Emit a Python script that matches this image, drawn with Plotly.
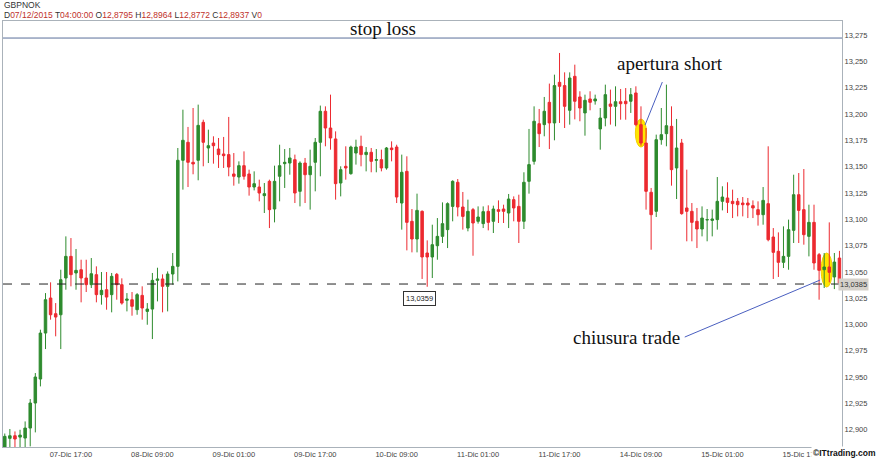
import plotly.graph_objects as go

# ---------------- data (GBPNOK, hourly candles from 07/12/2015 04:00) ----------------
open_ = [12.8795, 12.8918, 12.8943, 12.8930, 12.8921, 12.9016, 12.9254, 12.9482, 12.9919, 13.0252,
         13.0103, 13.0093, 13.0442, 13.0648, 13.0490, 13.0521, 13.0442, 13.0379, 13.0474, 13.0284,
         13.0331, 13.0284, 13.0477, 13.0379, 13.0230, 13.0236, 13.0141, 13.0277, 13.0125, 13.0147,
         13.0420, 13.0433, 13.0363, 13.0480, 13.0553, 13.1561, 13.1732, 13.1542, 13.1561, 13.1922,
         13.1678, 13.1725, 13.1668, 13.1621, 13.1615, 13.1431, 13.1402, 13.1510, 13.1431, 13.1307,
         13.1307, 13.1225, 13.1361, 13.1098, 13.1409, 13.1529, 13.1535, 13.1567, 13.1266, 13.1535,
         13.1424, 13.1542, 13.1732, 13.2027, 13.1868, 13.1764, 13.1345, 13.1504, 13.1434, 13.1630,
         13.1694, 13.1615, 13.1637, 13.1561, 13.1567, 13.1488, 13.1678, 13.1687, 13.1155, 13.1456,
         13.0981, 13.0813, 13.1076, 13.0680, 13.0642, 13.0749, 13.0838, 13.0902, 13.1123, 13.1352,
         13.1117, 13.0917, 13.1092, 13.0981, 13.0959, 13.1076, 13.0981, 13.1092, 13.1098, 13.1060,
         13.1187, 13.1123, 13.0981, 13.1361, 13.1551, 13.1909, 13.1900, 13.2112, 13.1916, 13.2302,
         13.2271, 13.2036, 13.2359, 13.2163, 13.2011, 13.2144, 13.2125, 13.1859, 13.1963, 13.2096,
         13.2074, 13.2118, 13.2122, 13.2122, 13.2201, 13.1900, 13.1725, 13.1257, 13.1076, 13.1757,
         13.1814, 13.1884, 13.1488, 13.1725, 13.1108, 13.1076, 13.0981, 13.0908, 13.0994, 13.0990,
         13.0997, 13.1171, 13.1203, 13.1171, 13.1171, 13.1155, 13.1155, 13.1130, 13.1092, 13.1044,
         13.1149, 13.0832, 13.0696, 13.0591, 13.0648, 13.0895, 13.1234, 13.1092, 13.0838, 13.0971,
         13.0664, 13.0521, 13.0547, 13.0452, 13.0632]
high = [12.8964, 12.9007, 12.8984, 12.9000, 12.9079, 12.9292, 12.9539, 12.9951, 13.0299, 13.0401,
        13.0204, 13.0521, 13.0838, 13.0822, 13.0718, 13.0616, 13.0616, 13.0632, 13.0553, 13.0499,
        13.0499, 13.0490, 13.0490, 13.0439, 13.0299, 13.0309, 13.0299, 13.0363, 13.0204, 13.0490,
        13.0540, 13.0477, 13.0505, 13.0680, 13.1678, 13.2042, 13.1878, 13.2058, 13.2090, 13.1947,
        13.1852, 13.1789, 13.1773, 13.1783, 13.1973, 13.1630, 13.1551, 13.1646, 13.1472, 13.1456,
        13.1377, 13.1345, 13.1377, 13.1510, 13.1709, 13.1668, 13.1678, 13.1615, 13.1551, 13.1583,
        13.1662, 13.1773, 13.2081, 13.2074, 13.2185, 13.1836, 13.1504, 13.1694, 13.1700, 13.1757,
        13.1795, 13.1687, 13.1678, 13.1668, 13.1662, 13.1687, 13.1741, 13.1709, 13.1615, 13.1599,
        13.1098, 13.1244, 13.1085, 13.0800, 13.0949, 13.1012, 13.1161, 13.1161, 13.1371, 13.1383,
        13.1260, 13.1187, 13.1108, 13.1123, 13.1123, 13.1133, 13.1130, 13.1180, 13.1139, 13.1241,
        13.1218, 13.1234, 13.1447, 13.1859, 13.2074, 13.2049, 13.2163, 13.2290, 13.2375, 13.2581,
        13.2397, 13.2397, 13.2470, 13.2217, 13.2185, 13.2217, 13.2185, 13.2058, 13.2280, 13.2233,
        13.2264, 13.2239, 13.2248, 13.2248, 13.2264, 13.2074, 13.1868, 13.1298, 13.1805, 13.2058,
        13.2280, 13.2074, 13.1954, 13.1764, 13.1472, 13.1155, 13.1108, 13.1123, 13.1098, 13.1092,
        13.1402, 13.1314, 13.1352, 13.1282, 13.1203, 13.1212, 13.1203, 13.1180, 13.1171, 13.1307,
        13.1694, 13.0917, 13.0876, 13.0933, 13.0997, 13.1424, 13.1440, 13.1478, 13.1139, 13.1139,
        13.0680, 13.0680, 13.0971, 13.0680, 13.0700]
low = [12.8772, 12.8817, 12.8817, 12.8826, 12.8826, 12.8842, 12.8975, 12.9412, 12.9767, 13.0046,
       12.9888, 12.9767, 13.0331, 13.0363, 13.0331, 13.0211, 13.0309, 13.0347, 13.0211, 13.0189,
       13.0141, 13.0116, 13.0236, 13.0189, 13.0125, 13.0084, 13.0093, 13.0046, 12.9998, 12.9862,
       13.0220, 13.0116, 13.0125, 13.0379, 13.0410, 13.1282, 13.1307, 13.1428, 13.1371, 13.1504,
       13.1535, 13.1529, 13.1488, 13.1488, 13.1409, 13.1320, 13.1339, 13.1377, 13.1225, 13.1275,
       13.1171, 13.1060, 13.0917, 13.0971, 13.1171, 13.1298, 13.1424, 13.1155, 13.1123, 13.1155,
       13.1092, 13.1266, 13.1409, 13.1694, 13.1662, 13.1187, 13.1218, 13.1377, 13.1424, 13.1520,
       13.1504, 13.1456, 13.1447, 13.1447, 13.1456, 13.1472, 13.1551, 13.1155, 13.0902, 13.0705,
       13.0686, 13.0686, 13.0433, 13.0359, 13.0442, 13.0616, 13.0775, 13.0727, 13.0981, 13.1028,
       13.0902, 13.0886, 13.0654, 13.0959, 13.0917, 13.0895, 13.0870, 13.0965, 13.0965, 13.0917,
       13.0981, 13.0775, 13.0908, 13.1244, 13.1520, 13.1687, 13.1789, 13.1668, 13.1751, 13.1916,
       13.1868, 13.1900, 13.1950, 13.1932, 13.1795, 13.2036, 13.2090, 13.1662, 13.1884, 13.1900,
       13.1884, 13.1947, 13.1947, 13.2011, 13.1884, 13.1700, 13.1092, 13.0711, 13.1022, 13.1709,
       13.1694, 13.1320, 13.1193, 13.1044, 13.0791, 13.0791, 13.0727, 13.0838, 13.0791, 13.0838,
       13.0902, 13.1085, 13.1060, 13.1012, 13.1028, 13.1028, 13.1012, 13.1012, 13.0940, 13.0949,
       13.0791, 13.0433, 13.0452, 13.0537, 13.0521, 13.0775, 13.0775, 13.0759, 13.0648, 13.0521,
       13.0236, 13.0347, 13.0401, 13.0337, 13.0328]
close = [12.8937, 12.8943, 12.8912, 12.8949, 12.9016, 12.9254, 12.9501, 12.9919, 13.0236, 13.0093,
         13.0071, 13.0426, 13.0648, 13.0474, 13.0515, 13.0442, 13.0379, 13.0483, 13.0284, 13.0325,
         13.0261, 13.0458, 13.0379, 13.0204, 13.0242, 13.0173, 13.0284, 13.0157, 13.0147, 13.0420,
         13.0433, 13.0363, 13.0480, 13.0553, 13.1561, 13.1751, 13.1542, 13.1526, 13.1893, 13.1732,
         13.1700, 13.1700, 13.1615, 13.1605, 13.1497, 13.1409, 13.1510, 13.1409, 13.1307, 13.1339,
         13.1250, 13.1244, 13.1092, 13.1361, 13.1510, 13.1542, 13.1583, 13.1250, 13.1535, 13.1424,
         13.1504, 13.1732, 13.2027, 13.1868, 13.1773, 13.1339, 13.1472, 13.1488, 13.1687, 13.1687,
         13.1615, 13.1637, 13.1551, 13.1567, 13.1488, 13.1678, 13.1662, 13.1212, 13.1447, 13.0971,
         13.0813, 13.1085, 13.0642, 13.0642, 13.0759, 13.0838, 13.0959, 13.1149, 13.1361, 13.1117,
         13.1028, 13.1076, 13.0965, 13.1022, 13.1073, 13.0971, 13.1098, 13.1076, 13.1076, 13.1193,
         13.1108, 13.0981, 13.1352, 13.1520, 13.1932, 13.1814, 13.2027, 13.1916, 13.2271, 13.2264,
         13.2074, 13.2343, 13.2122, 13.2058, 13.2131, 13.2112, 13.2144, 13.1963, 13.2185, 13.2074,
         13.2118, 13.2099, 13.2099, 13.2185, 13.1900, 13.1725, 13.1266, 13.1044, 13.1757, 13.1805,
         13.1890, 13.1472, 13.1678, 13.1054, 13.1076, 13.0971, 13.0908, 13.1012, 13.0997, 13.1003,
         13.1171, 13.1212, 13.1161, 13.1149, 13.1139, 13.1139, 13.1136, 13.1108, 13.1044, 13.1180,
         13.0806, 13.0686, 13.0591, 13.0648, 13.0902, 13.1234, 13.1085, 13.0854, 13.0971, 13.0585,
         13.0515, 13.0547, 13.0496, 13.0594, 13.0395]

tick_idx = [13, 29, 45, 61, 77, 93, 109, 125, 141, 157]
tick_text = ["07-Dic 17:00", "08-Dic 09:00", "09-Dic 01:00", "09-Dic 17:00", "10-Dic 09:00",
             "11-Dic 01:00", "11-Dic 17:00", "14-Dic 09:00", "15-Dic 01:00", "15-Dic 17:00"]
y_ticks = [12.900, 12.925, 12.950, 12.975, 13.000, 13.025, 13.050, 13.075, 13.100,
           13.125, 13.150, 13.175, 13.200, 13.225, 13.250, 13.275]
y_tick_text = ["12,900", "12,925", "12,950", "12,975", "13,000", "13,025", "13,050", "13,075", "13,100",
               "13,125", "13,150", "13,175", "13,200", "13,225", "13,250", "13,275"]

stop_loss = 13.2723
last_price = 13.0385
low_price = 13.0359
low_idx = 83
entry_idx = 125
exit_idx = 162

x = list(range(len(open_)))

GREEN = "#2e8b2e"
RED = "#ec2a30"
SANS = "Liberation Sans, Arial, sans-serif"
SERIF = "Liberation Serif, Times New Roman, serif"

fig = go.Figure()
fig.add_trace(go.Candlestick(
    x=x, open=open_, high=high, low=low, close=close,
    increasing=dict(line=dict(color=GREEN, width=1), fillcolor=GREEN),
    decreasing=dict(line=dict(color=RED, width=1), fillcolor=RED),
    whiskerwidth=0, showlegend=False, hoverinfo="skip",
))

shapes = [
    dict(type="circle", xref="x", yref="y", layer="below",
         x0=entry_idx - 1.1, x1=entry_idx + 1.1, y0=13.1687, y1=13.1953,
         fillcolor="#ffe500", line=dict(color="#f2d000", width=1)),
    dict(type="circle", xref="x", yref="y", layer="below",
         x0=exit_idx - 1.6, x1=exit_idx + 0.6, y0=13.0356, y1=13.0680,
         fillcolor="#ffe500", line=dict(color="#f2d000", width=1)),
    dict(type="line", xref="paper", yref="y", x0=0, x1=1, y0=last_price, y1=last_price,
         line=dict(color="#222222", width=1, dash="dash")),
    dict(type="line", xref="paper", yref="y", x0=0, x1=1, y0=stop_loss, y1=stop_loss,
         line=dict(color="#5b6f9a", width=1)),
    dict(type="line", xref="x", yref="y", x0=129.2, y0=13.2305, x1=125.8, y1=13.1896,
         line=dict(color="#4a5fc0", width=1)),
    dict(type="line", xref="x", yref="y", x0=133.6, y0=12.9881, x1=160.2, y1=13.0423,
         line=dict(color="#4a5fc0", width=1)),
]

annotations = [
    dict(text="GBPNOK", xref="paper", yref="paper", x=-0.001, y=1.0376, xanchor="left",
         yanchor="middle", showarrow=False, font=dict(family=SANS, size=8.5, color="#333333")),
    dict(text=("D<span style='color:#c0302a'>07/12/2015</span> T<span style='color:#c0302a'>04:00:00</span> "
               "O<span style='color:#c0302a'>12,8795</span> H<span style='color:#c0302a'>12,8964</span> "
               "L<span style='color:#c0302a'>12,8772</span> C<span style='color:#c0302a'>12,8937</span> "
               "V<span style='color:#c0302a'>0</span>"),
         xref="paper", yref="paper", x=-0.001, y=1.014, xanchor="left", yanchor="middle",
         showarrow=False, font=dict(family=SANS, size=8.5, color="#333333")),
    dict(text="stop loss", xref="paper", yref="y", x=0.4529, y=stop_loss, xanchor="center",
         yanchor="bottom", yshift=-3, showarrow=False, font=dict(family=SERIF, size=19, color="#111111")),
    dict(text="apertura short", xref="paper", yref="paper", x=0.795, y=0.9014, xanchor="center",
         yanchor="middle", showarrow=False, font=dict(family=SERIF, size=19, color="#111111")),
    dict(text="chiusura trade", xref="paper", yref="paper", x=0.7437, y=0.2559, xanchor="center",
         yanchor="middle", showarrow=False, font=dict(family=SERIF, size=19, color="#111111")),
    dict(text="13,0359", xref="x", yref="y", x=low_idx, y=low_price, xanchor="center",
         yanchor="top", xshift=-8, yshift=-4, showarrow=False, bgcolor="white",
         bordercolor="#333333", borderwidth=1, borderpad=2,
         font=dict(family=SANS, size=7.5, color="#222222")),
    dict(text="13,0385", xref="paper", yref="y", x=1, y=last_price, xanchor="left",
         yanchor="middle", xshift=-4, showarrow=False, bgcolor="#d5d1ca", borderpad=1,
         font=dict(family=SANS, size=7.5, color="#333333")),
    dict(text="<b>©ITtrading.com</b>", xref="paper", yref="paper", x=1.0429, y=-0.0141,
         xanchor="right", yanchor="middle", showarrow=False, bgcolor="white",
         font=dict(family=SANS, size=8.5, color="#111111")),
]

fig.update_layout(
    width=878, height=459,
    margin=dict(l=3, r=36, t=21, b=12, autoexpand=False),
    paper_bgcolor="white", plot_bgcolor="white",
    shapes=shapes, annotations=annotations,
    showlegend=False,
    xaxis=dict(range=[-0.35, 164.5], tickmode="array", tickvals=tick_idx, ticktext=tick_text,
               showgrid=False, zeroline=False, showline=True, linecolor="#aab2ba", linewidth=1,
               mirror=True, ticks="", automargin=False, rangeslider=dict(visible=False),
               tickfont=dict(family=SANS, size=7.5, color="#444444")),
    yaxis=dict(range=[12.8836, 13.2885], side="right", tickmode="array", tickvals=y_ticks,
               ticktext=y_tick_text, showgrid=False, zeroline=False, showline=True,
               linecolor="#aab2ba", linewidth=1, mirror=True, ticks="", automargin=False,
               tickfont=dict(family=SANS, size=7.5, color="#444444")),
)

fig.write_html("out.html", config={"displayModeBar": False},
               post_script="document.body.style.margin='0';")
